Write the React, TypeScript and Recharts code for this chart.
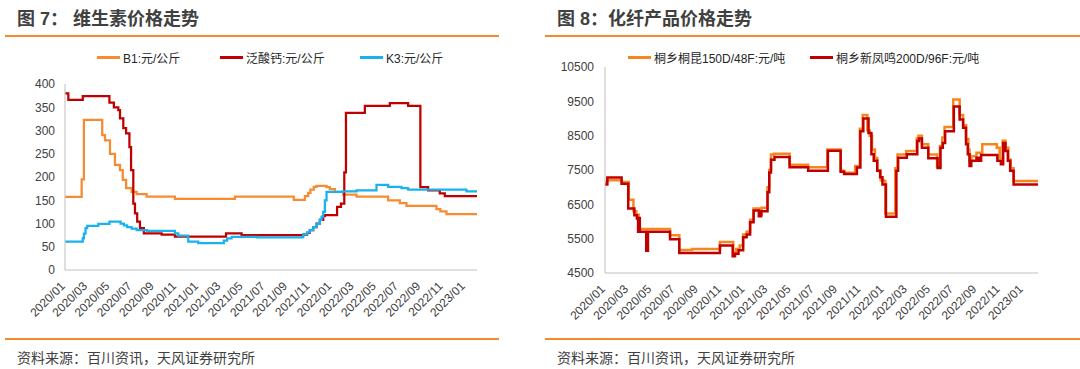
import React from "react";
import { Line, LineChart, XAxis, YAxis } from "recharts";

// time = months since 2020/01, value = price from that date on
const B1_PRICE: [number, number][] = [
  [0, 157], [1.5, 195], [1.7, 323], [3.35, 290], [3.6, 279], [4.05, 250], [4.5, 226],
  [4.95, 215], [5.2, 194], [5.5, 176], [6.0, 168], [6.45, 163], [7.35, 158], [9.9, 153],
  [15.3, 158], [20.6, 151], [21.6, 159], [21.9, 166], [22.1, 173], [22.4, 179], [22.65, 181],
  [23.55, 178], [23.85, 174], [24.3, 168], [25.05, 162], [26.25, 158], [29.1, 150],
  [30.15, 144], [30.75, 138], [33.45, 131], [33.8, 126], [34.35, 120], [37.1, 120],
];

const CA_PANTOTHENATE: [number, number][] = [
  [0, 380], [0.3, 366], [1.6, 374], [4.0, 360], [4.4, 350], [4.8, 344], [4.95, 326],
  [5.25, 305], [5.5, 294], [5.8, 264], [5.95, 215], [6.15, 143], [6.3, 122], [6.5, 104],
  [6.75, 90], [7.1, 79], [8.7, 76], [9.9, 72], [14.5, 79], [15.9, 75], [21.45, 76],
  [21.8, 80], [22.05, 86], [22.35, 92], [22.65, 100], [22.95, 108], [23.25, 116],
  [23.4, 118], [24.5, 136], [24.85, 143], [25.15, 210], [25.3, 338], [27.0, 353],
  [29.25, 359], [30.9, 353], [32.0, 178], [32.7, 171], [33.75, 165], [34.2, 159], [37.1, 159],
];

const K3_PRICE: [number, number][] = [
  [0, 61], [1.6, 68], [1.7, 78], [1.85, 90], [2.0, 95], [3.0, 99], [4.0, 104], [5.0, 100],
  [5.3, 96], [5.6, 92], [6.0, 89], [6.45, 86], [7.4, 84], [9.9, 79], [10.2, 74], [11.1, 61],
  [12.0, 58], [14.3, 63], [14.6, 68], [15.0, 71], [17.3, 70], [21.45, 77], [21.8, 81],
  [22.05, 86], [22.35, 92], [22.65, 99], [22.95, 108], [23.1, 115], [23.25, 125], [23.4, 150],
  [23.55, 168], [25.0, 169], [26.25, 171], [28.05, 183], [29.1, 179], [30.3, 176],
  [30.9, 173], [36.15, 169], [37.1, 169],
];

const TONGKUN_150D: [number, number][] = [
  [0, 7150], [0.2, 7200], [1.43, 7150], [2.05, 6630], [2.45, 6300], [2.7, 6200], [2.9, 5780],
  [5.6, 5600], [6.4, 5170], [7.5, 5200], [9.9, 5400], [11.05, 5100], [11.3, 5200],
  [11.6, 5300], [11.9, 5620], [12.2, 5700], [12.5, 6050], [12.8, 6380], [13.3, 6200],
  [13.5, 6400], [14.0, 7000], [14.15, 7500], [14.3, 7950], [14.55, 7970], [15.9, 7650],
  [17.5, 7580], [19.15, 8100], [20.3, 7480], [20.6, 7420], [21.55, 7620], [21.95, 8700],
  [22.2, 9100], [22.6, 8650], [22.8, 8500], [23.0, 8100], [23.25, 7850], [23.45, 7480],
  [23.75, 7200], [24.0, 7180], [24.15, 6230], [25.0, 7550], [25.2, 7950], [25.95, 8050],
  [26.85, 8420], [27.0, 8500], [27.3, 8250], [27.85, 7950], [28.6, 7600], [28.85, 8200],
  [29.05, 8450], [29.25, 8750], [30.0, 9550], [30.55, 9100], [30.85, 8800], [31.1, 8400],
  [31.3, 8100], [31.4, 7750], [31.55, 7900], [32.0, 8000], [32.5, 8250], [33.75, 8150],
  [34.0, 7850], [34.25, 8350], [34.5, 8150], [34.75, 7800], [34.95, 7550], [35.2, 7180],
  [37.3, 7180],
];

const XINFENGMING_200D: [number, number][] = [
  [0, 7080], [0.2, 7280], [1.43, 7100], [2.0, 6380], [2.53, 6180], [2.75, 6090], [2.85, 5700],
  [2.92, 6100], [3.0, 5700], [3.55, 5150], [3.7, 5700], [5.6, 5480], [6.4, 5080], [9.9, 5300],
  [11.0, 4990], [11.2, 5060], [11.5, 5160], [11.9, 5540], [12.2, 5620], [12.5, 5980],
  [12.8, 6320], [13.25, 6150], [13.45, 6300], [14.0, 6850], [14.15, 7430], [14.3, 7800],
  [14.6, 7880], [15.9, 7580], [17.5, 7480], [19.2, 8060], [20.3, 7450], [20.6, 7380],
  [21.7, 7570], [22.0, 8630], [22.25, 9000], [22.7, 8580], [22.95, 7960], [23.15, 7770],
  [23.45, 7480], [23.7, 7290], [23.9, 7080], [24.2, 6135], [25.1, 7480], [25.25, 7860],
  [26.0, 7960], [26.9, 8345], [27.05, 8420], [27.3, 8150], [27.85, 7845], [28.65, 7560],
  [28.9, 8150], [29.1, 8290], [29.3, 8630], [30.05, 9350], [30.55, 8970], [30.85, 8730],
  [31.1, 8250], [31.25, 7960], [31.4, 7620], [31.55, 7770], [32.0, 7860], [32.2, 7770],
  [32.4, 7940], [33.8, 7770], [34.1, 7670], [34.3, 8290], [34.5, 8050], [34.7, 7770],
  [34.9, 7480], [35.2, 7080], [37.3, 7080],
];

const MONTH_TICKS = [0, 2, 4, 6, 8, 10, 12, 14, 16, 18, 20, 22, 24, 26, 28, 30, 32, 34, 36];
const VITAMIN_TICKS = [0, 50, 100, 150, 200, 250, 300, 350, 400];
const FIBER_TICKS = [4500, 5500, 6500, 7500, 8500, 9500, 10500];

const FONT = '"Liberation Sans", Arial, "Noto Sans CJK SC", sans-serif';
const TXT = "#404040";
const AXIS = "#BFBFBF";
const RULE = "#F4892E";

const rows = (pts: [number, number][]) => pts.map(([t, v]) => ({ t, v }));
const fmtMonth = (m: number) =>
  `${2020 + Math.floor(m / 12)}/${String((m % 12) + 1).padStart(2, "0")}`;

const MonthTick = ({ x, y, payload }: any) => (
  <g transform={`translate(${x - 2},${y + 6})`}>
    <text x={0} y={0} dy={4} textAnchor="end" transform="rotate(-45)" fontSize={12} fill={TXT}>
      {fmtMonth(payload.value)}
    </text>
  </g>
);

type LegendItem = { label: string; color: string; x: number };

function Panel({
  left, width, title, legend, children,
}: {
  left: number; width: number; title: string;
  legend: LegendItem[]; children: React.ReactNode;
}) {
  return (
    <div style={{ position: "absolute", left, top: 0, width, height: 369 }}>
      <div style={{ position: "absolute", left: 17, top: 8, fontSize: 18, fontWeight: "bold", color: TXT, lineHeight: "22px", whiteSpace: "pre" }}>
        {title}
      </div>
      <div style={{ position: "absolute", left: 5, top: 35, width: width - 5, height: 2, background: RULE }} />
      {legend.map((it) => (
        <div key={it.label} style={{ position: "absolute", left: it.x, top: 49, height: 16, display: "flex", alignItems: "center", fontSize: 12, color: "#262626", whiteSpace: "nowrap" }}>
          <span style={{ display: "inline-block", width: 23, height: 3, background: it.color, marginRight: 3 }} />
          {it.label}
        </div>
      ))}
      <div style={{ position: "absolute", left: 0, top: 0 }}>{children}</div>
      <div style={{ position: "absolute", left: 5, top: 338, width: width - 5, height: 2, background: RULE }} />
      <div style={{ position: "absolute", left: 17, top: 348, fontSize: 14, color: TXT, lineHeight: "20px" }}>
        资料来源：百川资讯，天风证券研究所
      </div>
    </div>
  );
}

export default function App() {
  return (
    <div style={{ position: "absolute", left: 0, top: 0, width: 1080, height: 369, background: "#fff", fontFamily: FONT, overflow: "hidden" }}>
      <Panel
        left={0}
        width={499}
        title="图 7： 维生素价格走势"
        legend={[
          { label: "B1:元/公斤", color: "#F78B31", x: 97 },
          { label: "泛酸钙:元/公斤", color: "#C00000", x: 220 },
          { label: "K3:元/公斤", color: "#19B2EE", x: 360 },
        ]}
      >
        <LineChart width={500} height={340} margin={{ top: 84, right: 23, bottom: 0, left: 0 }}>
          <XAxis dataKey="t" type="number" domain={[0, 37.1]} ticks={MONTH_TICKS} interval={0}
            tick={<MonthTick />} tickLine={false} axisLine={{ stroke: AXIS }} height={70} allowDataOverflow />
          <YAxis type="number" domain={[0, 400]} ticks={VITAMIN_TICKS} interval={0} width={65}
            tickLine={false} axisLine={{ stroke: AXIS }} tickMargin={4} tick={{ fontSize: 12, fill: TXT }} />
          <Line data={rows(B1_PRICE)} dataKey="v" type="stepAfter" stroke="#F78B31" strokeWidth={2.25} dot={false} isAnimationActive={false} />
          <Line data={rows(CA_PANTOTHENATE)} dataKey="v" type="stepAfter" stroke="#C00000" strokeWidth={2.25} dot={false} isAnimationActive={false} />
          <Line data={rows(K3_PRICE)} dataKey="v" type="stepAfter" stroke="#19B2EE" strokeWidth={2.25} dot={false} isAnimationActive={false} />
        </LineChart>
      </Panel>
      <Panel
        left={540}
        width={540}
        title="图 8：化纤产品价格走势"
        legend={[
          { label: "桐乡桐昆150D/48F:元/吨", color: "#F7861F", x: 628 - 540 },
          { label: "桐乡新凤鸣200D/96F:元/吨", color: "#C00000", x: 810 - 540 },
        ]}
      >
        <LineChart width={540} height={340} margin={{ top: 67, right: 42, bottom: 0, left: 0 }}>
          <XAxis dataKey="t" type="number" domain={[0, 37.3]} ticks={MONTH_TICKS} interval={0}
            tick={<MonthTick />} tickLine={false} axisLine={{ stroke: AXIS }} height={67} allowDataOverflow />
          <YAxis type="number" domain={[4500, 10500]} ticks={FIBER_TICKS} interval={0} width={65}
            tickLine={false} axisLine={{ stroke: AXIS }} tickMargin={5} tick={{ fontSize: 12, fill: TXT }} />
          <Line data={rows(TONGKUN_150D)} dataKey="v" type="stepAfter" stroke="#F7861F" strokeWidth={2.5} dot={false} isAnimationActive={false} />
          <Line data={rows(XINFENGMING_200D)} dataKey="v" type="stepAfter" stroke="#C00000" strokeWidth={2.5} dot={false} isAnimationActive={false} />
        </LineChart>
      </Panel>
    </div>
  );
}
